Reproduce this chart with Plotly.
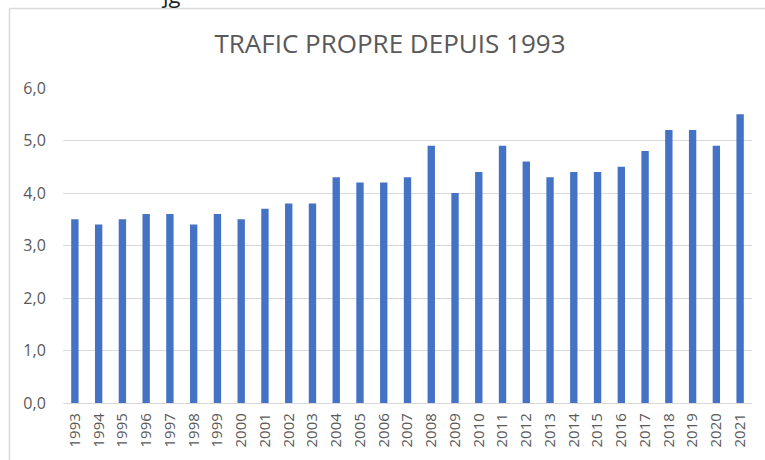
import plotly.graph_objects as go

years = [str(y) for y in range(1993, 2022)]
values = [3.5, 3.4, 3.5, 3.6, 3.6, 3.4, 3.6, 3.5, 3.7, 3.8, 3.8, 4.3, 4.2, 4.2, 4.3,
          4.9, 4.0, 4.4, 4.9, 4.6, 4.3, 4.4, 4.4, 4.5, 4.8, 5.2, 5.2, 4.9, 5.5]
y_ticks = [0, 1, 2, 3, 4, 5, 6]
y_tick_labels = ["0,0", "1,0", "2,0", "3,0", "4,0", "5,0", "6,0"]
title_text = "TRAFIC PROPRE DEPUIS 1993"

W, H = 765, 460
L, R, T, B = 63, 13, 88, 57
pw, ph = W - L - R, H - T - B

def px_x(x):
    return (x - L) / pw

def px_y(y):
    return (H - B - y) / ph

fig = go.Figure(go.Bar(x=years, y=values, marker_color="#4472C4",
                       marker_line_width=0, width=0.31))

fig.update_layout(
    width=W, height=H,
    margin=dict(l=L, r=R, t=T, b=B, autoexpand=False),
    paper_bgcolor="white", plot_bgcolor="white",
    font=dict(family="Open Sans", color="#595959", size=12),
    showlegend=False,
    title=dict(text=title_text, x=390 / W, xanchor="center", y=1 - 44 / H, yanchor="middle",
               font=dict(size=26, color="#595959", family="Open Sans")),
    bargap=0.69,
)
fig.update_yaxes(range=[0, 6], tickvals=y_ticks, ticktext=y_tick_labels,
                 showgrid=True, gridcolor="#D9D9D9", gridwidth=1.3,
                 zeroline=False, showline=False, ticks="outside", ticklen=13,
                 tickcolor="rgba(0,0,0,0)", tickfont=dict(size=16))
fig.update_xaxes(tickangle=-90, showline=True, linecolor="#D9D9D9", linewidth=1.3,
                 showgrid=False, tickfont=dict(size=15), ticks="outside", ticklen=3,
                 tickcolor="rgba(0,0,0,0)")

# outer frame (chart border)
frame = "#D9D9D9"
fig.add_shape(type="line", xref="paper", yref="paper",
              x0=px_x(9.5), x1=px_x(9.5), y0=px_y(8.5), y1=px_y(470),
              line=dict(color=frame, width=1.5))
fig.add_shape(type="line", xref="paper", yref="paper",
              x0=px_x(9.5), x1=px_x(780), y0=px_y(8.5), y1=px_y(8.5),
              line=dict(color=frame, width=1.5))

# clipped text fragment at the very top
fig.add_annotation(text="jg", xref="paper", yref="paper", x=px_x(171), y=px_y(-6),
                   showarrow=False, yanchor="middle", xanchor="center",
                   font=dict(size=22, color="#222222", family="Open Sans"))

fig.write_html("out.html", config={"displayModeBar": False},
               post_script="document.body.style.margin='0';")
